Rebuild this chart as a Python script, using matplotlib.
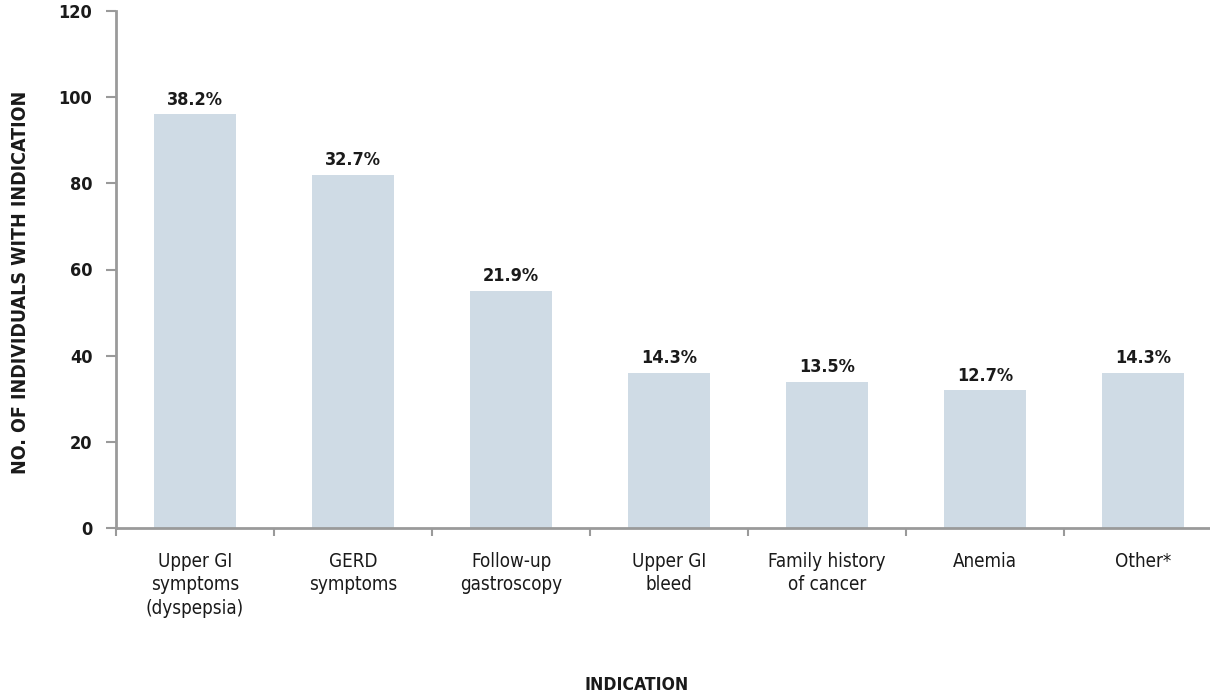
import matplotlib.pyplot as plt
from matplotlib.ticker import FixedLocator

# data
categories = ["Upper GI\nsymptoms\n(dyspepsia)", "GERD\nsymptoms", "Follow-up\ngastroscopy",
              "Upper GI\nbleed", "Family history\nof cancer", "Anemia", "Other*"]
counts = [96, 82, 55, 36, 34, 32, 36]
percents = ["38.2%", "32.7%", "21.9%", "14.3%", "13.5%", "12.7%", "14.3%"]
y_ticks = [0, 20, 40, 60, 80, 100, 120]

BAR = "#cfdbe5"
AXIS = "#9a9a9a"
TEXT = "#1a1a1a"

plt.rcParams['font.family'] = ['DejaVu Sans']
plt.rcParams['font.stretch'] = 'condensed'

fig = plt.figure(figsize=(12.1, 6.94), dpi=100)
ax = fig.add_axes([116 / 1210, 166 / 694, 1106 / 1210, 517 / 694])

x = list(range(len(categories)))
ax.bar(x, counts, width=0.52, color=BAR, zorder=2)

for xi, c, p in zip(x, counts, percents):
    ax.annotate(p, (xi, c), xytext=(0, 4), textcoords="offset points",
                ha="center", va="bottom", fontsize=13, fontweight="bold", color=TEXT)

ax.set_xlim(-0.5, len(categories) - 0.5)
ax.set_ylim(0, 120)
ax.set_yticks(y_ticks)
ax.set_yticklabels([str(t) for t in y_ticks], fontsize=13, fontweight="bold", color=TEXT)

ax.set_xticks(x)
ax.set_xticklabels(categories, fontsize=13.5, color=TEXT, linespacing=1.3)
ax.xaxis.set_minor_locator(FixedLocator([i - 0.5 for i in range(len(categories) + 1)]))
ax.tick_params(axis="x", which="major", length=0, pad=17)
ax.tick_params(axis="x", which="minor", length=6, width=1.5, color=AXIS, direction="out")
ax.tick_params(axis="y", length=7, width=1.5, color=AXIS, pad=10)

for s in ["top", "right"]:
    ax.spines[s].set_visible(False)
for s in ["left", "bottom"]:
    ax.spines[s].set_color(AXIS)
    ax.spines[s].set_linewidth(2)

ax.set_ylabel("NO. OF INDIVIDUALS WITH INDICATION", fontsize=14, fontweight="bold", color=TEXT)
ax.yaxis.set_label_coords(-86 / 1106, (528 - 282) / 517)
fig.text(637 / 1210, 1 - 685 / 694, "INDICATION", ha="center", va="center",
         fontsize=12.6, fontweight="bold", color=TEXT)

fig.savefig("out.png", dpi=100)
